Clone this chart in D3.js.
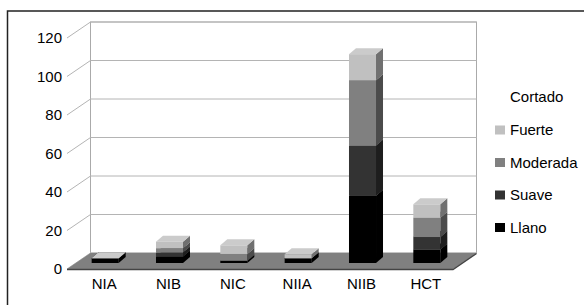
<!DOCTYPE html>
<html>
<head>
<meta charset="utf-8">
<script src="https://cdn.jsdelivr.net/npm/d3@7"></script>
<style>
  body { margin: 0; background: #fff; }
  text { font-family: "Liberation Sans", Arial, sans-serif; font-size: 15px; fill: #000; }
</style>
</head>
<body>
<svg id="chart" width="584" height="305"></svg>
<script>
var categories = ["NIA", "NIB", "NIC", "NIIA", "NIIB", "HCT"];
var llano    = [2.5, 3.4, 1.2, 2.5, 35, 7];
var suave    = [0, 2, 0, 0, 26, 6.5];
var moderada = [0, 2.3, 3.5, 0, 34, 10];
var fuerte   = [0, 3.4, 4.5, 2, 13.5, 7];
var seriesNames = ["Llano", "Suave", "Moderada", "Fuerte"];
var ticks = [0, 20, 40, 60, 80, 100, 120];

var svg = d3.select("#chart"),
  colors = ["#000000", "#333333", "#808080", "#c0c0c0"],
  wallDx = 23.5, wallDy = -16,
  barDx = 7, barDy = -6;

var yFront = d3.scaleLinear().domain([0, 120]).range([269, 38]),
  yBack = d3.scaleLinear().domain([0, 120]).range([253, 22]),
  yBar = d3.scaleLinear().domain([0, 120]).range([263, 32]),
  x = d3.scaleBand().domain(categories).range([73, 459]);

var frontLeft = 67, frontRight = 453;

// outer frame (only top/left visible)
svg.append("rect").attr("x", 7.5).attr("y", 11).attr("width", 700).attr("height", 400)
  .attr("fill", "none").attr("stroke", "#222").attr("stroke-width", 1.5);

// back wall
svg.append("rect")
  .attr("x", frontLeft + wallDx).attr("y", yBack(120))
  .attr("width", frontRight - frontLeft).attr("height", yBack(0) - yBack(120))
  .attr("fill", "#fff").attr("stroke", "#aaa");

// grid lines on the back wall and side wall
ticks.forEach(function (t) {
  svg.append("line")
    .attr("x1", frontLeft + wallDx).attr("x2", frontRight + wallDx)
    .attr("y1", yBack(t)).attr("y2", yBack(t))
    .attr("stroke", "#b4b4b4");
  svg.append("line")
    .attr("x1", frontLeft).attr("y1", yFront(t))
    .attr("x2", frontLeft + wallDx).attr("y2", yBack(t))
    .attr("stroke", "#b4b4b4");
  svg.append("text")
    .attr("x", 62).attr("y", yFront(t)).attr("dy", "0.35em")
    .attr("text-anchor", "end").text(t);
});

// floor
var floorPts = [[frontLeft, yFront(0)], [frontRight, yFront(0)],
  [frontRight + wallDx, yBack(0)], [frontLeft + wallDx, yBack(0)]];
svg.append("polygon").attr("points", floorPts.join(" "))
  .attr("fill", "#808080");
svg.append("polyline")
  .attr("points", [[frontLeft, yFront(0) + 0.5], [frontRight, yFront(0) + 0.5], [frontRight + wallDx, yBack(0) + 0.5]].join(" "))
  .attr("fill", "none").attr("stroke", "#444").attr("stroke-width", 1.5);

// stacked 3D bars
var stackData = categories.map(function (c, i) {
  return { cat: c, Llano: llano[i], Suave: suave[i], Moderada: moderada[i], Fuerte: fuerte[i] };
});
var stack = d3.stack().keys(seriesNames)(stackData);

var barW = x.bandwidth() * 0.42;

categories.forEach(function (c, i) {
  var x0 = x(c) + x.bandwidth() / 2 - barW / 2, x1 = x0 + barW;
  stack.forEach(function (s, k) {
    var yb = yBar(s[i][0]), yt = yBar(s[i][1]);
    var col = d3.color(colors[k]);
    var g = svg.append("g");
    g.append("rect").attr("x", x0).attr("y", yt)
      .attr("width", barW).attr("height", Math.max(0, yb - yt))
      .attr("fill", colors[k]);
    g.append("polygon")
      .attr("points", [[x1, yb], [x1, yt], [x1 + barDx, yt + barDy], [x1 + barDx, yb + barDy]].join(" "))
      .attr("fill", col.darker(1.5));
    g.append("polygon")
      .attr("points", [[x0, yt], [x1, yt], [x1 + barDx, yt + barDy], [x0 + barDx, yt + barDy]].join(" "))
      .attr("fill", k === 0 ? "#1a1a1a" : col.brighter(0.15));
  });
  svg.append("text")
    .attr("x", x(c) + x.bandwidth() / 2 - 1).attr("y", 289)
    .attr("text-anchor", "middle").text(c);
});

// legend
var legend = svg.append("g");
legend.append("text").attr("x", 510).attr("y", 97).attr("dy", "0.35em").text("Cortado");
seriesNames.slice().reverse().forEach(function (name, j) {
  var k = seriesNames.length - 1 - j, ly = 130 + j * 32.5;
  legend.append("rect").attr("x", 495).attr("y", ly - 4.5)
    .attr("width", 10).attr("height", 9).attr("fill", colors[k]);
  legend.append("text").attr("x", 510).attr("y", ly).attr("dy", "0.35em").text(name);
});
</script>
</body>
</html>
